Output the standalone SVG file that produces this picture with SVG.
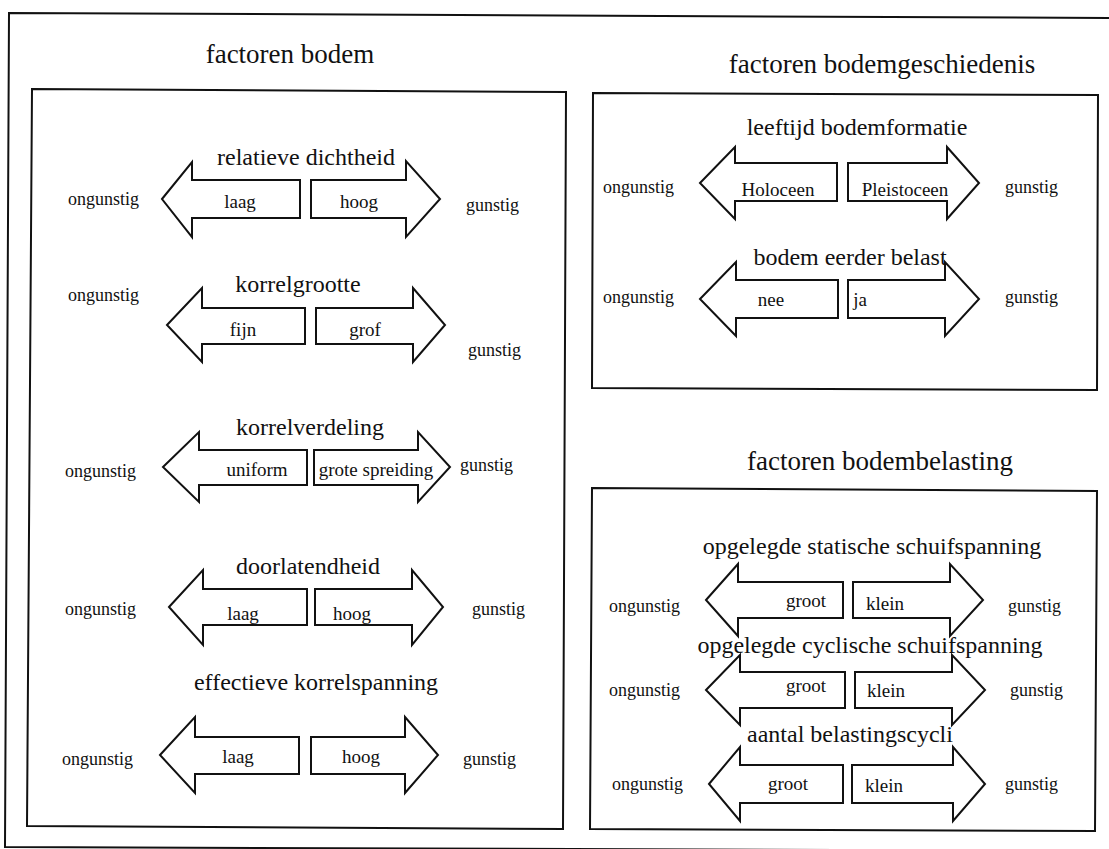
<svg xmlns="http://www.w3.org/2000/svg" width="1109" height="849" viewBox="0 0 1109 849">
  <style>
    text { font-family: "Liberation Serif", "Times New Roman", Times, serif; fill: #111; }
    .frame { fill: none; stroke: #111; stroke-width: 2; }
    .arrow { fill: #fff; stroke: #111; stroke-width: 2; stroke-linejoin: miter; }
    .title { font-size: 27px; text-anchor: middle; }
    .factor { font-size: 24px; text-anchor: middle; }
    .val { font-size: 19px; text-anchor: middle; }
    .side { font-size: 18px; }
  </style>
  <rect width="1109" height="849" fill="#fff"/>

  <!-- outer border (open to the right) -->
  <path class="frame" d="M 1115 18 L 9 13 L 5 847 L 1115 851"/>

  <!-- section titles -->
  <text class="title" x="290" y="63">factoren bodem</text>
  <text class="title" x="882" y="73">factoren bodemgeschiedenis</text>
  <text class="title" x="880" y="470">factoren bodembelasting</text>

  <!-- section boxes -->
  <path id="box-bodem" class="frame" d="M32 89 L566 92 L563 829 L27 826 Z"/>
  <path id="box-geschiedenis" class="frame" d="M593 93 L1098 95 L1097 390 L592 388 Z"/>
  <path id="box-belasting" class="frame" d="M592 488 L1097 491 L1095 831 L590 829 Z"/>

  <g id="connectors">
    <!-- relatieve dichtheid -->
    <path class="arrow" d="M162 199 L192 162 L192 180 L300 180 L300 218 L192 218 L192 237 Z"/>
    <path class="arrow" d="M311 180 L406 180 L406 161 L440 199 L406 237 L406 218 L311 218 Z"/>
    <!-- korrelgrootte -->
    <path class="arrow" d="M167 325 L202 288 L202 308 L305 308 L305 344 L202 344 L202 362 Z"/>
    <path class="arrow" d="M316 308 L413 308 L413 288 L445 325 L413 362 L413 344 L316 344 Z"/>
    <!-- korrelverdeling -->
    <path class="arrow" d="M163 467 L199 432 L199 450 L307 450 L307 485 L199 485 L199 502 Z"/>
    <path class="arrow" d="M314 450 L418 450 L418 432 L450 467 L418 502 L418 485 L314 485 Z"/>
    <!-- doorlatendheid -->
    <path class="arrow" d="M169 607 L203 570 L203 589 L307 589 L307 625 L203 625 L203 645 Z"/>
    <path class="arrow" d="M315 589 L412 589 L412 570 L443 607 L412 645 L412 625 L315 625 Z"/>
    <!-- effectieve korrelspanning -->
    <path class="arrow" d="M160 755 L195 717 L195 737 L299 737 L299 774 L195 774 L195 793 Z"/>
    <path class="arrow" d="M311 737 L405 737 L405 717 L438 755 L405 793 L405 774 L311 774 Z"/>
    <!-- leeftijd bodemformatie -->
    <path class="arrow" d="M700 183 L735 147 L735 163 L837 163 L837 201 L735 201 L735 219 Z"/>
    <path class="arrow" d="M848 163 L947 163 L947 147 L979 183 L947 219 L947 201 L848 201 Z"/>
    <!-- bodem eerder belast -->
    <path class="arrow" d="M700 299 L736 262 L736 280 L838 280 L838 318 L736 318 L736 336 Z"/>
    <path class="arrow" d="M848 280 L945 280 L945 262 L979 299 L945 336 L945 318 L848 318 Z"/>
    <!-- opgelegde statische schuifspanning -->
    <path class="arrow" d="M706 600 L738 564 L738 582 L843 582 L843 618 L738 618 L738 636 Z"/>
    <path class="arrow" d="M853 582 L950 582 L950 564 L983 600 L950 636 L950 618 L853 618 Z"/>
    <!-- opgelegde cyclische schuifspanning -->
    <path class="arrow" d="M706 690 L740 655 L740 672 L845 672 L845 708 L740 708 L740 725 Z"/>
    <path class="arrow" d="M855 672 L952 672 L952 655 L985 690 L952 725 L952 708 L855 708 Z"/>
    <!-- aantal belastingscycli -->
    <path class="arrow" d="M709 784 L740 747 L740 765 L843 765 L843 803 L740 803 L740 821 Z"/>
    <path class="arrow" d="M852 765 L953 765 L953 747 L985 784 L953 821 L953 803 L852 803 Z"/>
  </g>

  <g id="node-relatieve-dichtheid">
    <text class="factor" x="306" y="165">relatieve dichtheid</text>
    <text class="val" x="240" y="208">laag</text>
    <text class="val" x="359" y="208">hoog</text>
    <text class="side" x="68" y="205">ongunstig</text>
    <text class="side" x="466" y="211">gunstig</text>
  </g>

  <g id="node-korrelgrootte">
    <text class="factor" x="298" y="292">korrelgrootte</text>
    <text class="val" x="243" y="336">fijn</text>
    <text class="val" x="365" y="336">grof</text>
    <text class="side" x="68" y="301">ongunstig</text>
    <text class="side" x="468" y="356">gunstig</text>
  </g>

  <g id="node-korrelverdeling">
    <text class="factor" x="310" y="435">korrelverdeling</text>
    <text class="val" x="257" y="476">uniform</text>
    <text class="val" x="376" y="476">grote spreiding</text>
    <text class="side" x="65" y="477">ongunstig</text>
    <text class="side" x="460" y="471">gunstig</text>
  </g>

  <g id="node-doorlatendheid">
    <text class="factor" x="308" y="574">doorlatendheid</text>
    <text class="val" x="243" y="620">laag</text>
    <text class="val" x="352" y="620">hoog</text>
    <text class="side" x="65" y="615">ongunstig</text>
    <text class="side" x="472" y="615">gunstig</text>
  </g>

  <g id="node-effectieve-korrelspanning">
    <text class="factor" x="316" y="690">effectieve korrelspanning</text>
    <text class="val" x="238" y="763">laag</text>
    <text class="val" x="361" y="763">hoog</text>
    <text class="side" x="62" y="765">ongunstig</text>
    <text class="side" x="463" y="765">gunstig</text>
  </g>

  <g id="node-leeftijd-bodemformatie">
    <text class="factor" x="857" y="135">leeftijd bodemformatie</text>
    <text class="val" x="778" y="196">Holoceen</text>
    <text class="val" x="905" y="196">Pleistoceen</text>
    <text class="side" x="603" y="193">ongunstig</text>
    <text class="side" x="1005" y="193">gunstig</text>
  </g>

  <g id="node-bodem-eerder-belast">
    <text class="factor" x="850" y="265">bodem eerder belast</text>
    <text class="val" x="771" y="306">nee</text>
    <text class="val" x="860" y="306">ja</text>
    <text class="side" x="603" y="303">ongunstig</text>
    <text class="side" x="1005" y="303">gunstig</text>
  </g>

  <g id="node-statische-schuifspanning">
    <text class="factor" x="872" y="554">opgelegde statische schuifspanning</text>
    <text class="val" x="806" y="607">groot</text>
    <text class="val" x="885" y="610">klein</text>
    <text class="side" x="609" y="612">ongunstig</text>
    <text class="side" x="1008" y="612">gunstig</text>
  </g>

  <g id="node-cyclische-schuifspanning">
    <text class="factor" x="870" y="653">opgelegde cyclische schuifspanning</text>
    <text class="val" x="806" y="692">groot</text>
    <text class="val" x="886" y="697">klein</text>
    <text class="side" x="609" y="696">ongunstig</text>
    <text class="side" x="1010" y="696">gunstig</text>
  </g>

  <g id="node-aantal-belastingscycli">
    <text class="factor" x="850" y="742">aantal belastingscycli</text>
    <text class="val" x="788" y="790">groot</text>
    <text class="val" x="884" y="792">klein</text>
    <text class="side" x="612" y="790">ongunstig</text>
    <text class="side" x="1005" y="790">gunstig</text>
  </g>
</svg>
